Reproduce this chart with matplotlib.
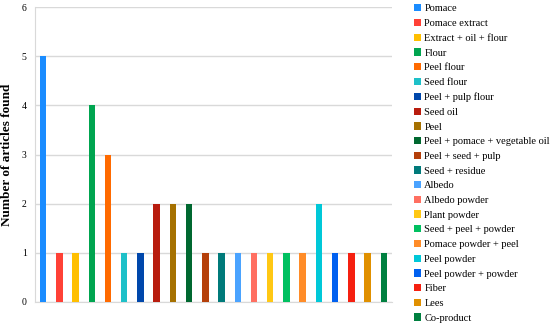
import matplotlib.pyplot as plt
from matplotlib.patches import Patch

categories = [
    'Pomace', 'Pomace extract', 'Extract + oil + flour', 'Flour', 'Peel flour',
    'Seed flour', 'Peel + pulp flour', 'Seed oil', 'Peel',
    'Peel + pomace + vegetable oil', 'Peel + seed + pulp', 'Seed + residue',
    'Albedo', 'Albedo powder', 'Plant powder', 'Seed + peel + powder',
    'Pomace powder + peel', 'Peel powder', 'Peel powder + powder', 'Fiber',
    'Lees', 'Co-product',
]
counts = [5, 1, 1, 4, 3, 1, 1, 2, 2, 2, 1, 1, 1, 1, 1, 1, 1, 2, 1, 1, 1, 1]
colors = [
    '#1a8cff', '#ff4136', '#ffbf00', '#00a550', '#ff6a00', '#1ec0c8',
    '#0047ab', '#b81c0e', '#a67100', '#006830', '#b5400a', '#007a7a',
    '#4aa3ff', '#ff6f61', '#ffc814', '#00c060', '#ff8c28', '#00c8d8',
    '#0060f0', '#f52010', '#e09000', '#008040',
]

plt.rcParams['font.family'] = ['Liberation Serif', 'DejaVu Serif']

fig = plt.figure(figsize=(5.5, 3.24), dpi=100)
ax = fig.add_axes([0.0636, 0.068, 0.649, 0.91])

x = list(range(len(categories)))
ax.bar(x, counts, width=0.4, color=colors, zorder=3)

ax.set_xlim(-0.5, len(categories) - 0.5)
ax.set_ylim(0, 6)
ax.set_yticks(range(0, 7))
ax.set_xticks([])
ax.tick_params(axis='y', length=0, labelsize=7, pad=6)
ax.yaxis.grid(True, color='#d9d9d9', linewidth=1, zorder=0)
for side in ['top', 'right']:
    ax.spines[side].set_visible(False)
for side in ['left', 'bottom']:
    ax.spines[side].set_color('#d9d9d9')
ax.set_ylabel('Number of articles found', fontsize=9.5, fontweight='bold', labelpad=6)

handles = [Patch(facecolor=c, edgecolor='none') for c in colors]
fig.legend(handles, categories, loc='upper left', bbox_to_anchor=(0.745, 1.0),
           frameon=False, fontsize=7.5, handlelength=0.7, handleheight=0.7,
           handletextpad=0.3, labelspacing=0.52, borderaxespad=0)

fig.savefig('out.png', dpi=100)
